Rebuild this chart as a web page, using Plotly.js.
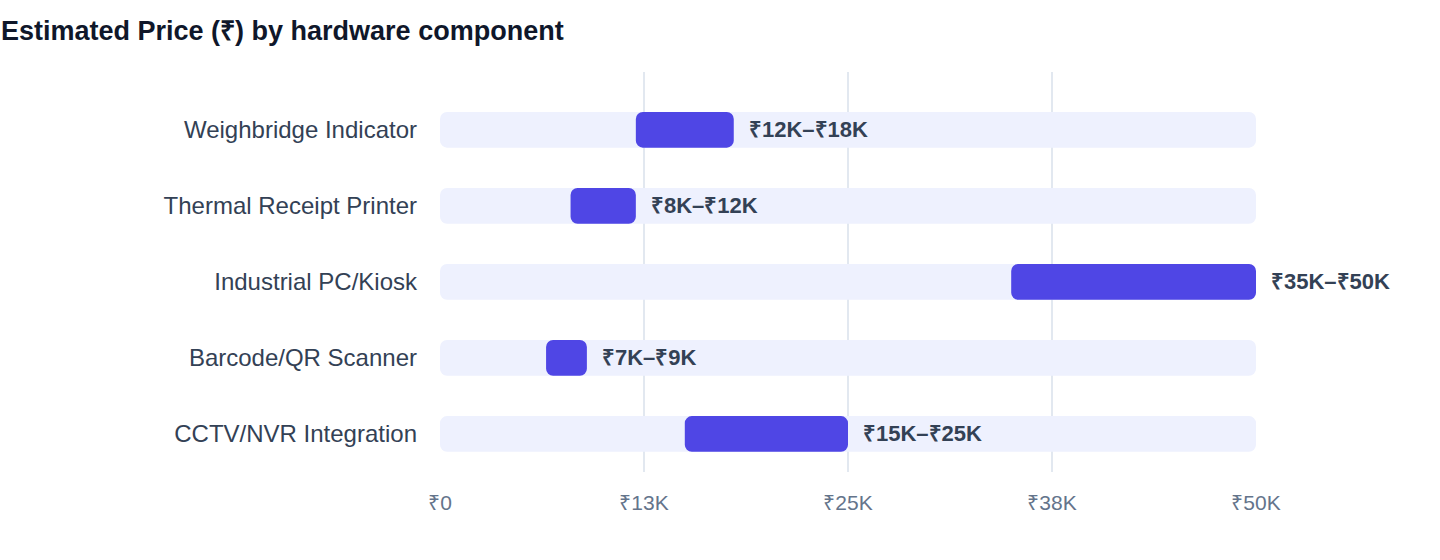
<!DOCTYPE html>
<html>
<head>
<meta charset="utf-8">
<script src="https://cdn.plot.ly/plotly-3.0.1.min.js"></script>
<style>
  html, body { margin: 0; padding: 0; background: #fff; }
  #chart { width: 1440px; height: 560px; }
</style>
</head>
<body>
<div id="chart"></div>
<script>
// hardware components, top to bottom
const components = [
    'Weighbridge Indicator',
    'Thermal Receipt Printer',
    'Industrial PC/Kiosk',
    'Barcode/QR Scanner',
    'CCTV/NVR Integration'
];
const priceLow = [12000, 8000, 35000, 6500, 15000];
const priceHigh = [18000, 12000, 50000, 9000, 25000];
const rangeLabels = ['₹12K–₹18K', '₹8K–₹12K', '₹35K–₹50K', '₹7K–₹9K', '₹15K–₹25K'];

const priceMax = 50000;
const tickValues = [0, 12500, 25000, 37500, 50000];
const tickLabels = ['₹0', '₹13K', '₹25K', '₹38K', '₹50K'];

const FONT = '"Liberation Sans", Arial, Helvetica, sans-serif';

let track = {
    type: 'bar',
    orientation: 'h',
    y: components,
    x: components.map(() => priceMax),
    base: 0,
    width: 0.47,
    marker: { color: '#eef1fe', cornerradius: 7 },
    hoverinfo: 'skip'
};

let range = {
    type: 'bar',
    orientation: 'h',
    y: components,
    x: priceHigh.map((h, i) => h - priceLow[i]),
    base: priceLow,
    width: 0.47,
    marker: { color: '#4f46e5', cornerradius: 7 },
    hoverinfo: 'skip'
};

let annotations = components.map((c, i) => ({
    x: priceHigh[i],
    y: c,
    xref: 'x',
    yref: 'y',
    text: rangeLabels[i],
    showarrow: false,
    xanchor: 'left',
    yanchor: 'middle',
    xshift: 13,
    font: { family: FONT, size: 22, color: '#334155', weight: 700 }
}));

let layout = {
    width: 1440,
    height: 560,
    margin: { l: 440, r: 184, t: 72, b: 88 },
    paper_bgcolor: '#ffffff',
    plot_bgcolor: '#ffffff',
    barmode: 'overlay',
    showlegend: false,
    title: {
        text: '<b>Estimated Price (₹) by hardware component</b>',
        x: 0,
        xanchor: 'left',
        xref: 'container',
        y: 0.945,
        yanchor: 'middle',
        yref: 'container',
        pad: { l: 1 },
        font: { family: FONT, size: 27, color: '#0f172a' }
    },
    xaxis: {
        range: [0, priceMax],
        tickvals: tickValues,
        ticktext: tickLabels,
        showgrid: true,
        gridcolor: '#e2e8f0',
        gridwidth: 2,
        zeroline: false,
        showline: false,
        ticks: '',
        ticklabelstandoff: 16,
        tickfont: { family: FONT, size: 21, color: '#64748b' },
        fixedrange: true
    },
    yaxis: {
        type: 'category',
        categoryorder: 'array',
        categoryarray: components,
        range: [4.5, -0.76],
        showgrid: false,
        zeroline: false,
        showline: false,
        ticks: '',
        ticklabelstandoff: 22,
        tickfont: { family: FONT, size: 24, color: '#334155' },
        fixedrange: true
    },
    annotations: annotations
};

Plotly.newPlot('chart', [track, range], layout, { displayModeBar: false, staticPlot: true });
</script>
</body>
</html>
